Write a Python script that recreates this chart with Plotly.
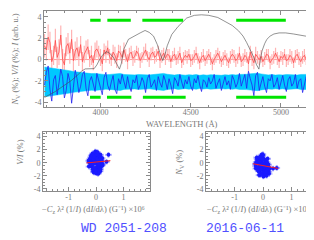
import numpy as np
import plotly.graph_objects as go

# ---------------- data ----------------
WL_START, WL_STOP, WL_STEP = 3690, 5160, 10
WL = np.arange(WL_START, WL_STOP + 1, WL_STEP)

N_VALS = [1.3, 0.9, 2.1, 1.6, -0.2, 0.4, 1.8, 0.2, 0.7, 2.3,
          0.0, -0.5, 1.2, 1.5, 0.6, 1.9, -0.1, 0.8, 1.1, 0.3,
          1.4, -0.2, 0.5, 0.9, 1.2, 0.1, 0.4, -0.3, 0.8, 1.0,
          0.6, 0.2, -0.4, 0.9, 0.5, 1.1, 0.3, 0.0, 0.7, 0.4,
          -0.1, 0.8, 0.6, 0.2, 0.9, 0.4, -0.2, 0.5, 0.7, 0.1,
          0.3, 0.8, 0.5, -0.1, 0.2, 0.6, 0.9, 0.3, 0.0, 0.5,
          0.7, 0.2, 0.4, 0.8, -0.1, 0.3, 0.6, 0.1, 0.5, 0.4,
          -0.2, 0.3, 0.5, 0.0, 0.2, 0.6, -0.3, 0.1, 0.4, 0.2,
          0.5, -0.1, 0.0, 0.3, 0.6, 0.1, -0.3, 0.2, 0.4, -0.1,
          0.2, 0.5, 0.1, -0.4, 0.0, 0.3, 0.6, 0.2, -0.2, 0.1,
          0.4, 0.0, -0.3, 0.2, 0.5, 0.3, -0.1, 0.1, 0.6, -0.2,
          0.0, 0.4, 0.2, -0.4, 0.7, 0.1, -0.3, 0.5, 0.2, 0.0,
          0.3, -0.2, 0.1, 0.5, 0.4, -0.3, 0.0, 0.2, 0.6, 0.1,
          -0.2, 0.3, 0.1, 0.5, -0.1, 0.0, 0.4, 0.2, -0.3, 0.3,
          0.5, 0.1, -0.2, 0.2, 0.4, 0.0, 0.3, 0.1]

N_ERR = [1.1, 1.0, 1.2, 1.0, 1.1, 0.9, 1.1, 1.0, 1.2, 0.9,
         1.0, 1.1, 0.9, 1.0, 1.0, 0.9, 1.1, 0.9, 1.0, 0.9,
         0.8, 0.9, 0.8, 0.9, 0.7, 0.8, 0.9, 0.7, 0.8, 0.8,
         0.7, 0.8, 0.7, 0.6, 0.8, 0.7, 0.7, 0.6, 0.7, 0.8,
         0.7, 0.6, 0.7, 0.6, 0.7, 0.6, 0.7, 0.6, 0.6, 0.7,
         0.6, 0.5, 0.6, 0.7, 0.5, 0.6, 0.6, 0.5, 0.7, 0.6,
         0.5, 0.6, 0.6, 0.5, 0.7, 0.6, 0.5, 0.6, 0.5, 0.6,
         0.6, 0.5, 0.6, 0.5, 0.6, 0.6, 0.5, 0.6, 0.5, 0.6,
         0.5, 0.6, 0.5, 0.6, 0.6, 0.5, 0.6, 0.5, 0.6, 0.5,
         0.6, 0.5, 0.6, 0.6, 0.5, 0.6, 0.5, 0.6, 0.5, 0.6,
         0.5, 0.6, 0.5, 0.6, 0.5, 0.6, 0.6, 0.5, 0.6, 0.5,
         0.6, 0.6, 0.5, 0.7, 0.6, 0.7, 0.6, 0.7, 0.6, 0.5,
         0.6, 0.5, 0.6, 0.5, 0.6, 0.6, 0.5, 0.6, 0.5, 0.6,
         0.6, 0.5, 0.6, 0.5, 0.6, 0.5, 0.6, 0.6, 0.5, 0.6,
         0.5, 0.6, 0.5, 0.6, 0.6, 0.5, 0.6, 0.5]

V_VALS = [-2.4, -1.2, -0.6, -2.8, -3.9, -1.9, -1.5, -3.3, -2.2, -0.9,
          -1.6, -3.6, -2.9, -1.3, -2.0, -4.1, -2.6, -1.0, -1.8, -3.1,
          -2.5, -1.4, -1.1, -2.7, -3.4, -2.0, -1.6, -2.3, -3.0, -1.3,
          -1.9, -2.6, -3.3, -1.7, -1.2, -2.4, -2.9, -2.1, -1.5, -2.8,
          -3.2, -1.8, -2.3, -1.4, -2.0, -2.7, -1.6, -2.5, -3.0, -1.9,
          -2.2, -1.5, -2.8, -2.4, -1.7, -2.1, -3.1, -1.8, -1.4, -2.6,
          -2.3, -1.9, -2.9, -1.6, -2.2, -2.6, -1.5, -2.0, -2.8, -1.8,
          -2.4, -3.2, -1.7, -2.0, -2.5, -1.4, -2.1, -2.7, -1.9, -2.3,
          -1.6, -2.5, -2.9, -1.8, -2.2, -1.5, -2.4, -3.0, -1.9, -2.1,
          -2.6, -1.7, -2.3, -2.0, -1.4, -2.7, -2.2, -1.8, -2.9, -2.1,
          -1.6, -2.4, -2.0, -2.8, -1.5, -1.9, -2.6, -2.2, -1.3, -2.5,
          -2.0, -1.4, -2.7, -1.1, -1.8, -2.4, -3.4, -1.5, -1.2, -2.9,
          -2.2, -1.6, -2.5, -3.1, -1.8, -2.0, -1.4, -2.6, -2.3, -1.7,
          -2.8, -2.1, -1.5, -2.4, -3.0, -1.9, -1.6, -2.5, -2.2, -1.4,
          -2.7, -2.0, -1.8, -3.1, -2.3, -1.6, -2.4, -1.9]

V_OFFSET = -2.1
VERR_STEP = 20
WL_VERR = np.arange(WL_START, WL_STOP + 1, VERR_STEP)
V_ERR = [1.40, 1.36, 1.31, 1.27, 1.22, 1.15, 1.10, 1.05, 0.98, 0.93,
         0.88, 0.84, 0.80, 0.78, 0.80, 0.74, 0.70, 0.68, 0.70, 0.72,
         0.78, 0.80, 0.70, 0.68, 0.72, 0.66, 0.70, 0.67, 0.71, 0.65,
         0.69, 0.72, 0.78, 0.80, 0.72, 0.68, 0.64, 0.70, 0.66, 0.63,
         0.68, 0.64, 0.69, 0.62, 0.67, 0.63, 0.68, 0.64, 0.66, 0.62,
         0.67, 0.64, 0.69, 0.65, 0.70, 0.68, 0.72, 0.76, 0.80, 0.82,
         0.75, 0.70, 0.66, 0.69, 0.64, 0.68, 0.65, 0.70, 0.66, 0.69,
         0.64, 0.70, 0.67, 0.71]

I_WL = [3690, 3720, 3750, 3780, 3810, 3840, 3870, 3895, 3915, 3940,
        3965, 3980, 3995, 4015, 4033, 4050, 4072, 4090, 4105, 4115,
        4130, 4155, 4190, 4220, 4247, 4270, 4294, 4315, 4332, 4345,
        4356, 4370, 4395, 4430, 4478, 4520, 4560, 4600, 4650, 4690,
        4730, 4765, 4790, 4810, 4832, 4850, 4865, 4878, 4886, 4895,
        4910, 4922, 4940, 4961, 4990, 5026, 5070, 5110, 5137, 5159]
I_VAL = [-3.55, -3.3, -3.0, -2.65, -2.3, -1.95, -1.5, -1.1, -0.88, -0.84,
         -0.85, -0.5, 0.0, 0.5, 0.74, 0.6, 0.2, -0.4, -0.9, -0.4,
         1.0, 1.9, 2.25, 2.5, 2.73, 2.55, 2.2, 1.4, 0.5, -0.1,
         0.4, 1.3, 2.35, 3.1, 3.9, 4.15, 4.2, 4.15, 3.95, 3.6,
         3.2, 2.7, 2.2, 1.6, 0.9, 0.2, -0.5, -0.9, 0.0, 0.8,
         1.5, 1.9, 2.2, 2.4, 2.5, 2.5, 2.4, 2.3, 2.2, 2.05]

WIN_TOP_START = [3943, 4038, 4232, 4752]
WIN_TOP_END = [4001, 4168, 4458, 5027]
WIN_BOT_START = [3942, 4036, 4235, 4752]
WIN_BOT_END = [4001, 4171, 4472, 5029]
WIN_TOP_LEVEL = 3.7
WIN_BOT_LEVEL = -3.55

X_L = [-0.05, 0.12, -0.18, 0.02, 0.20, -0.10, 0.07, -0.25, 0.15, -0.02,
       0.09, -0.14, 0.01, 0.22, -0.07, -0.20, 0.05, 0.13, -0.12, 0.00,
       -0.03, 0.17, -0.22, 0.08, -0.09, 0.11, -0.16, 0.04, 0.19, -0.06,
       0.06, -0.27, 0.14, -0.01, -0.13, 0.24, -0.08, 0.03, -0.19, 0.10,
       -0.04, 0.16, -0.11, 0.07, -0.23, 0.12, 0.02, -0.15, 0.21, -0.05,
       0.08, -0.17, 0.00, 0.18, -0.09, -0.02, 0.13, -0.21, 0.05, 0.10,
       -0.12, 0.03, -0.07, 0.15, -0.24, 0.06, 0.11, -0.03, -0.14, 0.20,
       -0.06, 0.09, -0.18, 0.01, 0.14, -0.10, 0.04, -0.26, 0.17, -0.01,
       0.07, -0.08, 0.12, -0.16, 0.02, 0.23, -0.04, -0.20, 0.10, 0.05,
       -0.11, 0.16, -0.02, 0.08, -0.13, 0.45, 0.38, -0.07, 0.11, -0.19]
Y_L = [0.4, -0.8, 1.1, -0.2, 0.6, -1.3, 0.9, 0.1, -0.5, 1.5,
       -1.0, 0.3, -1.6, 0.7, 1.2, -0.4, -0.9, 1.0, 0.5, -0.1,
       1.7, -0.6, 0.2, 1.3, -1.4, 0.0, 0.8, -1.1, -0.3, 0.6,
       -0.7, 0.3, 1.1, -1.2, 1.4, -0.2, -1.5, 0.9, -0.5, 0.2,
       -0.9, 1.2, 0.5, -1.7, 0.0, 0.7, 1.6, -0.6, 0.3, -1.2,
       1.0, -0.3, -0.8, 0.1, 1.3, -1.4, 0.6, 0.4, 1.5, -0.4,
       -1.0, 0.8, -0.1, -1.3, 0.5, 1.1, -0.7, 0.2, 0.9, -0.5,
       1.4, -1.6, 0.0, 0.7, -0.9, -0.2, 1.2, -0.6, 0.4, -1.1,
       0.3, 1.0, -1.3, 0.6, 1.3, -0.4, -0.8, 0.8, -0.2, 1.6,
       0.5, -1.0, -1.5, 0.1, 1.1, 1.2, 0.15, 0.9, -0.3, 0.2]

X_R = [0.03, -0.15, 0.10, -0.04, 0.18, -0.22, 0.06, -0.09, 0.14, -0.01,
       -0.12, 0.08, -0.26, 0.02, 0.16, -0.07, 0.11, -0.18, 0.05, -0.03,
       0.21, -0.10, 0.00, -0.20, 0.13, -0.05, 0.07, -0.14, 0.19, -0.08,
       0.04, -0.24, 0.12, -0.02, 0.09, -0.16, 0.15, -0.06, 0.01, -0.11,
       0.23, -0.13, 0.06, -0.19, 0.10, -0.04, 0.17, -0.09, 0.02, -0.21,
       0.08, -0.01, -0.15, 0.14, -0.07, 0.20, -0.12, 0.04, -0.25, 0.11,
       -0.03, 0.07, -0.17, 0.13, 0.00, -0.08, 0.18, -0.14, 0.05, -0.10,
       0.12, -0.05, -0.22, 0.09, 0.03, -0.16, 0.16, -0.02, 0.06, -0.11,
       -0.19, 0.10, 0.01, -0.06, 0.22, -0.13, 0.08, -0.04, 0.15, -0.09,
       0.48, 0.35, -0.27, 0.11, -0.01, 0.05, -0.18, 0.13, -0.07, 0.02]
Y_R = [-0.6, 0.4, -1.5, -0.1, -1.0, 0.8, -1.8, -0.3, -0.9, 1.1,
       -1.3, 0.2, -0.5, -2.0, 0.6, -0.8, -1.4, 0.0, -0.4, -1.1,
       -1.7, 0.9, -0.2, 0.5, -1.2, 1.2, -0.7, -1.9, -0.3, 0.3,
       -1.0, 0.1, -1.6, 0.7, -0.5, -1.3, -0.1, 1.0, -2.1, -0.6,
       -0.9, 0.4, -1.5, 0.0, -0.8, 0.8, -1.2, -0.4, -1.7, 0.6,
       -0.2, 1.3, -0.7, -1.1, 0.2, -1.4, 0.5, -0.3, -0.9, -1.8,
       0.9, -0.5, 0.1, -1.6, -0.1, -1.0, -0.6, 0.7, -1.3, 0.3,
       -2.0, -0.4, -0.8, 0.4, -1.5, -0.2, -1.1, 1.1, -0.7, -1.9,
       0.0, -1.2, 0.6, -0.5, -0.9, 0.2, -1.6, -0.3, -1.0, 0.8,
       -0.8, -0.9, -0.2, -1.4, 0.5, -0.6, -1.1, 0.1, -1.7, -0.4]
SCAT_XERR = 0.1
SCAT_YERR = 0.35

FIT_X = [-0.35, 0.52]
FIT_L = (0.40, 0.10)     # slope, intercept
FIT_R = (-0.82, -0.45)

TITLE_STAR = "WD 2051-208"
TITLE_DATE = "2016-06-11"

# ---------------- figure ----------------
W, H = 314, 240
def px(x): return x / W
def py(y): return 1 - y / H

fig = go.Figure()

# pink error spikes of N
fig.add_trace(go.Scatter(x=WL, y=N_VALS, mode="markers",
                         marker=dict(size=1, color="rgba(0,0,0,0)"),
                         error_y=dict(type="data", array=N_ERR, color="#ffb4b4",
                                      thickness=1.2, width=0),
                         xaxis="x", yaxis="y", showlegend=False, hoverinfo="skip"))
# red N line
fig.add_trace(go.Scatter(x=WL, y=N_VALS, mode="lines",
                         line=dict(color="#ff4a4a", width=0.8),
                         xaxis="x", yaxis="y", showlegend=False))
# cyan band
v_lo = V_OFFSET - np.array(V_ERR)
v_hi = V_OFFSET + np.array(V_ERR)
fig.add_trace(go.Scatter(x=WL_VERR, y=v_lo, mode="lines",
                         line=dict(color="#00c8ff", width=0.5),
                         xaxis="x", yaxis="y", showlegend=False))
fig.add_trace(go.Scatter(x=WL_VERR, y=v_hi, mode="lines", fill="tonexty",
                         fillcolor="#00c8ff", line=dict(color="#00c8ff", width=0.5),
                         xaxis="x", yaxis="y", showlegend=False))
# blue V line
fig.add_trace(go.Scatter(x=WL, y=V_VALS, mode="lines",
                         line=dict(color="#2222f0", width=0.8),
                         xaxis="x", yaxis="y", showlegend=False))
# intensity
fig.add_trace(go.Scatter(x=I_WL, y=I_VAL, mode="lines",
                         line=dict(color="#4a4a4a", width=0.6),
                         xaxis="x", yaxis="y", showlegend=False))
# green windows
def seg(starts, ends, level):
    xs, ys = [], []
    for s, e in zip(starts, ends):
        xs += [s, e, None]
        ys += [level, level, None]
    return xs, ys
for st, en, lv in [(WIN_TOP_START, WIN_TOP_END, WIN_TOP_LEVEL),
                   (WIN_BOT_START, WIN_BOT_END, WIN_BOT_LEVEL)]:
    xs, ys = seg(st, en, lv)
    fig.add_trace(go.Scatter(x=xs, y=ys, mode="lines",
                             line=dict(color="#00e400", width=3),
                             xaxis="x", yaxis="y", showlegend=False))

# bottom scatters
for xa, ya, xs, ys, fit in [("x2", "y2", X_L, Y_L, FIT_L), ("x3", "y3", X_R, Y_R, FIT_R)]:
    fig.add_trace(go.Scatter(x=xs, y=ys, mode="markers",
                             marker=dict(size=4, color="#1a1aff"),
                             error_x=dict(type="constant", value=SCAT_XERR, color="#9a9aff",
                                          thickness=0.8, width=1),
                             error_y=dict(type="constant", value=SCAT_YERR, color="#9a9aff",
                                          thickness=0.8, width=1),
                             xaxis=xa, yaxis=ya, showlegend=False))
    fx = np.array(FIT_X)
    fig.add_trace(go.Scatter(x=fx, y=fit[0] * fx + fit[1], mode="lines",
                             line=dict(color="#ff2020", width=1),
                             xaxis=xa, yaxis=ya, showlegend=False))

tickfont = dict(family="Liberation Serif", size=8, color="#777777")
def ax(**kw):
    d = dict(showline=True, linecolor="#8a8a8a", linewidth=1, mirror="ticks",
             ticks="inside", ticklen=4, tickcolor="#8a8a8a", tickwidth=0.8,
             showgrid=False, zeroline=False, tickfont=tickfont)
    d.update(kw)
    return d

fig.update_layout(
    width=W, height=H, margin=dict(l=0, r=0, t=0, b=0),
    paper_bgcolor="white", plot_bgcolor="white",
    xaxis=ax(domain=[px(36), px(313)], range=[3687, 5222], anchor="y",
             tickvals=[4000, 4500, 5000], ticktext=["4000", "4500", "5000"],
             ticklabelstandoff=-3,
             minor=dict(ticks="inside", ticklen=2, tickcolor="#8a8a8a", dtick=100, tick0=0)),
    yaxis=ax(domain=[py(100), py(3)], range=[-4.47, 4.56], anchor="x",
             tickvals=[-4, -2, 0, 2, 4], ticktext=["-4", "-2", "0", "2", "4"],
             minor=dict(ticks="inside", ticklen=2, tickcolor="#8a8a8a", dtick=0.5, tick0=0)),
    xaxis2=ax(domain=[px(35), px(142)], range=[-1.93, 1.96], anchor="y2",
              tickvals=[-1, 0, 1], ticktext=["-1", "0", "1"],
              ticklabelstandoff=-2,
              minor=dict(ticks="inside", ticklen=2, tickcolor="#8a8a8a", dtick=0.2, tick0=0)),
    yaxis2=ax(domain=[py(185), py(125)], range=[-4.4, 4.7], anchor="x2",
              tickvals=[-4, -2, 0, 2, 4], ticktext=["-4", "-2", "0", "2", "4"],
              minor=dict(ticks="inside", ticklen=2, tickcolor="#8a8a8a", dtick=0.5, tick0=0)),
    xaxis3=ax(domain=[px(198), px(313)], range=[-2.0, 2.03], anchor="y3",
              tickvals=[-1, 0, 1], ticktext=["-1", "0", "1"],
              ticklabelstandoff=-2,
              minor=dict(ticks="inside", ticklen=2, tickcolor="#8a8a8a", dtick=0.2, tick0=0)),
    yaxis3=ax(domain=[py(185), py(125)], range=[-4.4, 4.7], anchor="x3",
              tickvals=[-4, -2, 0, 2, 4], ticktext=["-4", "-2", "0", "2", "4"],
              minor=dict(ticks="inside", ticklen=2, tickcolor="#8a8a8a", dtick=0.5, tick0=0)),
)

lab = dict(family="Liberation Serif", size=8.5, color="#777777")
xlab = "−<i>C</i><sub>z</sub> λ² (1/<i>I</i>) (d<i>I</i>/dλ) (G⁻¹) ×10⁶"
anns = [
    dict(x=px(174), y=py(117), text="WAVELENGTH (Å)"),
    dict(x=px(8), y=py(52), text="<i>N</i><sub>V</sub> (%); <i>V/I</i> (%); <i>I</i> (arb. u.)", textangle=-90),
    dict(x=px(12), y=py(146), text="<i>V/I</i> (%)", textangle=-90),
    dict(x=px(172), y=py(156), text="<i>N</i><sub>V</sub> (%)", textangle=-90),
    dict(x=px(85), y=py(203), text=xlab),
    dict(x=px(250), y=py(203), text=xlab),
]
annotations = []
for a in anns:
    a.update(xref="paper", yref="paper", showarrow=False, font=lab,
             xanchor="center", yanchor="middle")
    annotations.append(a)
tf = dict(family="Liberation Mono", size=13, color="#5050ff")
annotations.append(dict(x=px(116), y=py(222), text=TITLE_STAR, xref="paper", yref="paper",
                        showarrow=False, font=tf, xanchor="center", yanchor="middle"))
annotations.append(dict(x=px(237), y=py(222), text=TITLE_DATE, xref="paper", yref="paper",
                        showarrow=False, font=tf, xanchor="center", yanchor="middle"))
fig.update_layout(annotations=annotations)

# red zero line across the top panel
fig.add_shape(type="line", xref="x domain", yref="y", x0=0, x1=1, y0=0, y1=0,
              line=dict(color="#ff7070", width=0.7), layer="below")

fig.write_html("out.html")
